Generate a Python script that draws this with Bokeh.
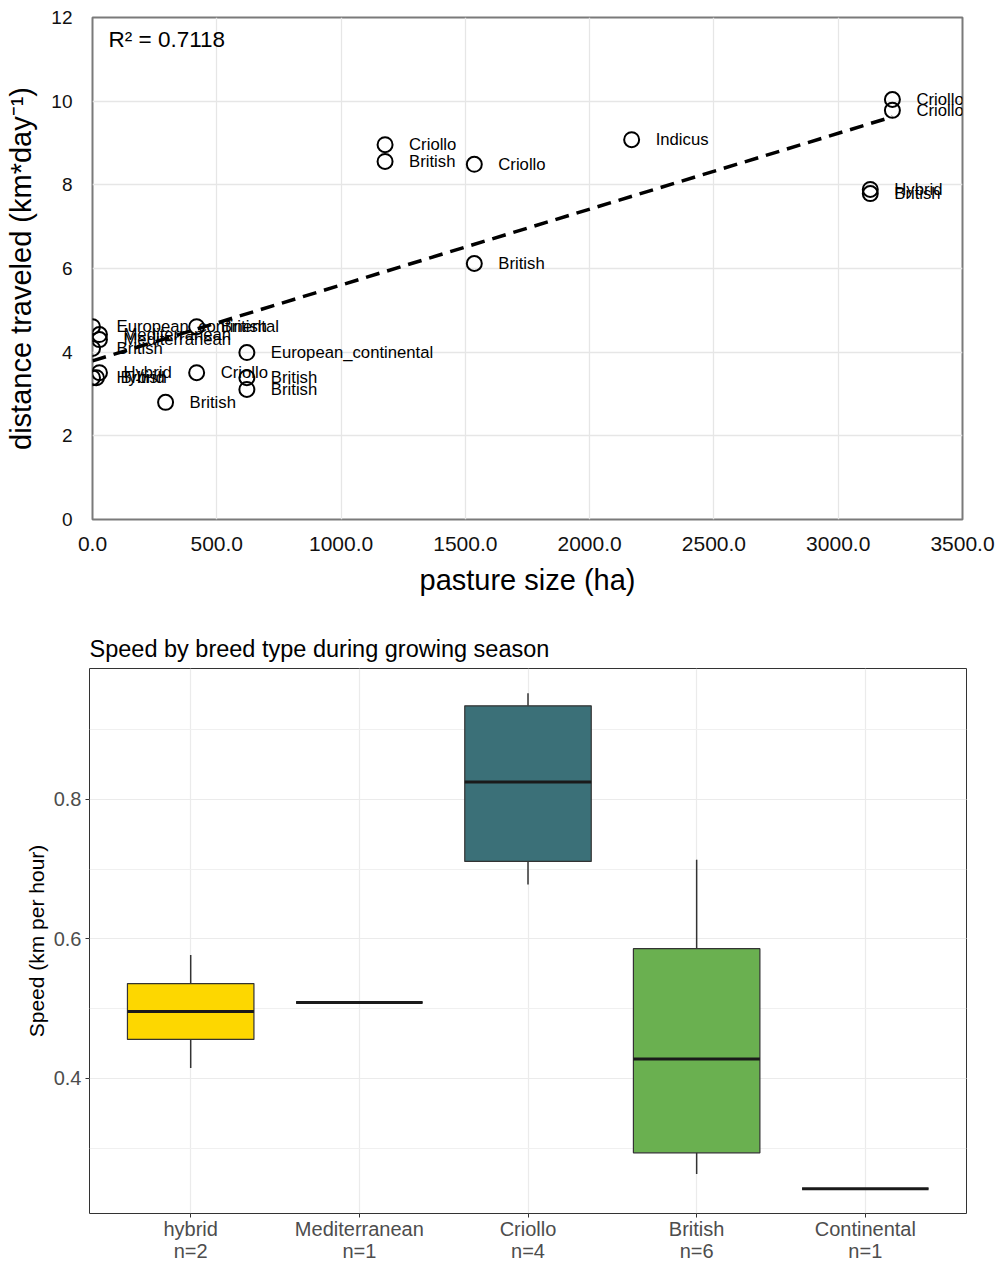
import numpy as np
from bokeh.plotting import figure
from bokeh.models import Range1d, SingleIntervalTicker, FixedTicker, NumeralTickFormatter, ColumnDataSource
from bokeh.embed import file_html
from bokeh.resources import INLINE
from bokeh.core.properties import value

# ---------------- data: top scatter ----------------
pasture_ha = [3218, 3218, 2169, 1177, 1177, 1536, 3129, 3129, 1536,
              0, 419, 28, 28, 0, 621, 28, 0, 16, 419, 621, 621, 294]
distance_km = [10.04, 9.78, 9.08, 8.96, 8.56, 8.49, 7.89, 7.79, 6.12,
               4.61, 4.61, 4.42, 4.30, 4.09, 3.99, 3.51, 3.39, 3.39, 3.51, 3.39, 3.11, 2.80]
breed_labels = ["Criollo", "Criollo", "Indicus", "Criollo", "British", "Criollo", "Hybrid", "British", "British",
                "European_continental", "British", "Mediterranean", "Mediterranean", "British",
                "European_continental", "Hybrid", "Hybrid", "British", "Criollo", "British", "British", "British"]
r2_text = "R\u00b2 = 0.7118"
x_ticks_top = [0, 500, 1000, 1500, 2000, 2500, 3000, 3500]
y_ticks_top = [0, 2, 4, 6, 8, 10, 12]

# ---------------- data: bottom boxplot ----------------
breeds = ["hybrid", "Mediterranean", "Criollo", "British", "Continental"]
n_obs = [2, 1, 4, 6, 1]
whisker_low = [0.415, 0.509, 0.678, 0.263, 0.242]
q1 = [0.456, 0.509, 0.711, 0.2935, 0.242]
median = [0.496, 0.509, 0.825, 0.428, 0.242]
q3 = [0.536, 0.509, 0.934, 0.586, 0.242]
whisker_high = [0.577, 0.509, 0.952, 0.7135, 0.242]
box_colors = ["#FDD700", "#9FDA3A", "#3B7078", "#6AB050", "#4AC16D"]

FONT = "Liberation Sans"

# ================= TOP FIGURE =================
p1 = figure(width=1000, height=612, output_backend="svg", toolbar_location=None,
            x_range=Range1d(0, 3500), y_range=Range1d(0, 12),
            min_border_left=92, min_border_right=38, min_border_top=17, min_border_bottom=93)
p1.background_fill_color = "white"
p1.border_fill_color = "white"
p1.outline_line_color = "#7a7a7a"
p1.outline_line_width = 2

p1.xaxis.ticker = FixedTicker(ticks=x_ticks_top)
p1.yaxis.ticker = FixedTicker(ticks=y_ticks_top)
p1.xaxis.formatter = NumeralTickFormatter(format="0.0")
for ax in (p1.xaxis[0], p1.yaxis[0]):
    ax.axis_line_color = None
    ax.major_tick_line_color = None
    ax.minor_tick_line_color = None
    ax.major_tick_out = 0
    ax.major_tick_in = 0
    ax.major_label_text_font = FONT
    ax.major_label_text_color = "#111111"
    ax.axis_label_text_font = FONT
    ax.axis_label_text_font_size = "29px"
    ax.axis_label_text_font_style = "normal"
    ax.axis_label_text_color = "black"
p1.xaxis.major_label_text_font_size = "21px"
p1.yaxis.major_label_text_font_size = "19px"
p1.xaxis.major_label_standoff = 17
p1.xaxis.axis_label_standoff = 10
p1.yaxis.major_label_standoff = 20
p1.yaxis.axis_label_standoff = 11
p1.xaxis.axis_label = "pasture size (ha)"
p1.yaxis.axis_label = "distance traveled (km*day\u207b\u00b9)"
p1.xgrid.ticker = FixedTicker(ticks=x_ticks_top)
p1.ygrid.ticker = FixedTicker(ticks=y_ticks_top)
p1.grid.grid_line_color = "#e6e6e6"
p1.grid.grid_line_width = 1.3

# regression line
slope, intercept = np.polyfit(pasture_ha, distance_km, 1)
xl = np.array([min(pasture_ha), max(pasture_ha)])
p1.line(xl, intercept + slope * xl, line_color="black", line_width=3.5, line_dash="14 8")

src = ColumnDataSource(dict(x=pasture_ha, y=distance_km, lab=breed_labels))
p1.scatter("x", "y", source=src, size=15, fill_color=None, line_color="black", line_width=2)
p1.text("x", "y", text="lab", source=src, x_offset=24, text_baseline="middle", text_align="left",
        text_font=value(FONT), text_font_size="16.7px", text_color="black")
p1.text(x=[0], y=[12], text=[r2_text], x_offset=16, y_offset=22, text_baseline="middle",
        text_align="left", text_font=value(FONT), text_font_size="22.5px", text_color="black")

# ================= BOTTOM FIGURE =================
pos = list(range(len(breeds)))
lo = min(whisker_low); hi = max(whisker_high); pad = 0.05 * (hi - lo)
p2 = figure(width=1000, height=652, output_backend="svg", toolbar_location=None,
            x_range=Range1d(-0.6, len(breeds) - 0.4), y_range=Range1d(lo - pad, hi + pad),
            min_border_left=89, min_border_right=34, min_border_top=56, min_border_bottom=47,
            title="Speed by breed type during growing season")
p2.title.text_font = FONT
p2.title.text_font_size = "23.5px"
p2.title.text_font_style = "normal"
p2.title.text_color = "black"
p2.title.standoff = 13
p2.outline_line_color = "#333333"
p2.outline_line_width = 1

p2.xaxis.ticker = FixedTicker(ticks=pos)
p2.xaxis.major_label_overrides = {i: f"{b}\nn={n}" for i, b, n in zip(pos, breeds, n_obs)}
p2.yaxis.ticker = SingleIntervalTicker(interval=0.2, num_minor_ticks=2)
for ax in (p2.xaxis[0], p2.yaxis[0]):
    ax.axis_line_color = None
    ax.major_tick_line_color = "#333333"
    ax.major_tick_line_width = 1
    ax.major_tick_out = 4
    ax.major_tick_in = 0
    ax.minor_tick_line_color = None
    ax.major_label_text_font = FONT
    ax.major_label_text_color = "#4d4d4d"
    ax.axis_label_text_font = FONT
    ax.axis_label_text_font_size = "21px"
    ax.axis_label_text_font_style = "normal"
    ax.axis_label_text_color = "black"
p2.xaxis.major_label_text_font_size = "20px"
p2.xaxis.major_label_text_line_height = 1.0
p2.xaxis.major_label_standoff = 0
p2.yaxis.major_label_standoff = 4
p2.yaxis.major_label_text_font_size = "20px"
p2.yaxis.axis_label = "Speed (km per hour)"
p2.yaxis.axis_label_standoff = 3
p2.xgrid.ticker = FixedTicker(ticks=pos)
p2.grid.grid_line_color = "#ebebeb"
p2.grid.grid_line_width = 1.2
p2.ygrid.minor_grid_line_color = "#f0f0f0"
p2.ygrid.minor_grid_line_width = 1

bsrc = ColumnDataSource(dict(
    x=pos, left=[i - 0.375 for i in pos], right=[i + 0.375 for i in pos],
    wlo=whisker_low, q1=q1, med=median, q3=q3, whi=whisker_high, color=box_colors))
p2.segment(x0="x", x1="x", y0="wlo", y1="q1", source=bsrc, line_color="#333333", line_width=1.5)
p2.segment(x0="x", x1="x", y0="q3", y1="whi", source=bsrc, line_color="#333333", line_width=1.5)
p2.quad(left="left", right="right", bottom="q1", top="q3", source=bsrc,
        fill_color="color", line_color="#333333", line_width=1.2)
p2.segment(x0="left", x1="right", y0="med", y1="med", source=bsrc, line_color="#1a1a1a", line_width=3)

open("out.html", "w").write(file_html([p1, p2], INLINE))
